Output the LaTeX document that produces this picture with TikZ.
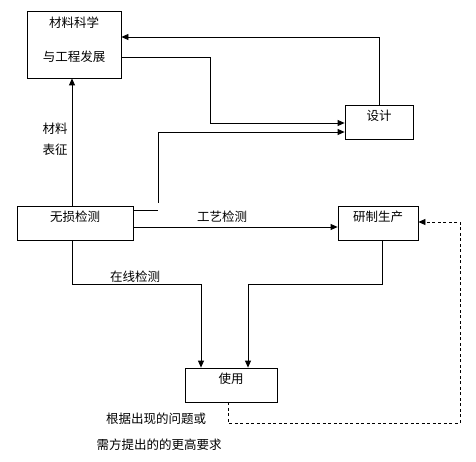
\documentclass[tikz,border=0pt]{standalone}
\usepackage{fontspec}
\setmainfont{Noto Sans CJK SC}
\usetikzlibrary{arrows.meta,calc}
\begin{document}
\begin{tikzpicture}[x=1pt,y=-1pt,
  font=\fontsize{12.5}{14}\selectfont,
  line width=0.8pt,
  box/.style={draw,line width=0.8pt,inner sep=0pt,text height=9.5pt,text depth=12pt},
  arr/.style={-{Triangle[length=7pt,width=6pt]}},
  lbl/.style={inner sep=0pt}]
\useasboundingbox (0,0) rectangle (476,462);
% boxes
\node[draw,line width=0.8pt,minimum width=94pt,minimum height=67pt] (box1) at (74,44.5) {};
\node[lbl] (t1a) at (74,23) {材料科学};
\node[lbl] (t1b) at (74,57) {与工程发展};
\node[box,minimum width=68pt,minimum height=34pt] (sheji) at (379,122) {设计};
\node[box,minimum width=116pt,minimum height=34pt] (wusun) at (75,223) {无损检测};
\node[box,minimum width=80pt,minimum height=34pt] (yanzhi) at (378,223) {研制生产};
\node[box,minimum width=92pt,minimum height=34pt] (shiyong) at (231,385) {使用};
% coordinates
\coordinate (k1) at (210,123);
\coordinate (k2) at (158,210);
\coordinate (k3) at (158,203);
\coordinate (d1) at (460,423);
% connectors
\draw[arr] (sheji.north) |- ([yshift=7.5pt]box1.east);
\draw[arr] ([yshift=-12.5pt]box1.east) -| (k1) -- ([yshift=-1pt]sheji.west);
\draw ([yshift=13pt]wusun.east) -- (k2);
\draw[arr] (k3) |- ([yshift=-10pt]sheji.west);
\draw[arr] ([xshift=-3pt]wusun.north) -- ([xshift=-2pt]box1.south);
\draw[arr] ([yshift=-4pt]wusun.east) -- ([yshift=-4pt]yanzhi.west);
\draw[arr] ([xshift=-3pt]wusun.south) -- ++(0,44) -| ([xshift=-30pt]shiyong.north);
\draw[arr] ([xshift=4pt]yanzhi.south) -- ++(0,44) -| ([xshift=17pt]shiyong.north);
\draw[arr,dashed,dash pattern=on 3pt off 2.5pt] ([xshift=-3pt]shiyong.south) |- (d1) |- ([yshift=1pt]yanzhi.east);
% labels
\node[lbl] (l1) at (55,129) {材料};
\node[lbl] (l2) at (55,150) {表征};
\node[lbl] (l3) at (222,217) {工艺检测};
\node[lbl] (l4) at (135,277) {在线检测};
\node[lbl] (l5) at (156,419) {根据出现的问题或};
\node[lbl] (l6) at (159,445) {需方提出的的更高要求};
\end{tikzpicture}
\end{document}
